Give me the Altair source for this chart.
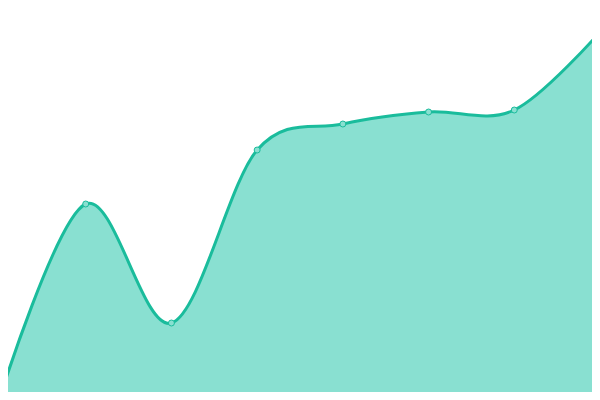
import altair as alt
import pandas as pd

idx = [0, 1, 2, 3, 4, 5, 6, 7]
values = [3, 196, 77, 250, 276, 288, 290, 368]

df = pd.DataFrame({"i": idx, "v": values})

x = alt.X("i:Q", axis=None, scale=alt.Scale(domain=[0, 7], range=[-8, 592], nice=False, zero=False))
y = alt.Y("v:Q", axis=None, scale=alt.Scale(domain=[0, 400], range=[392, -8], nice=False))

base = alt.Chart(df).encode(x=x, y=y)

area = base.mark_area(interpolate="cardinal", color="#89e0d1", opacity=1)
line = base.mark_line(interpolate="cardinal", color="#1abc9c", strokeWidth=3)
pts = base.mark_point(filled=True, shape="circle", size=36, fill="#89e0d1", stroke="#1abc9c", strokeWidth=1, opacity=1)

chart = (area + line + pts).properties(
    width=584, height=384, padding=0, autosize=alt.AutoSizeParams(type="none")
).configure_view(stroke=None)

chart.save("out.html", embed_options={"renderer": "svg", "actions": False})
